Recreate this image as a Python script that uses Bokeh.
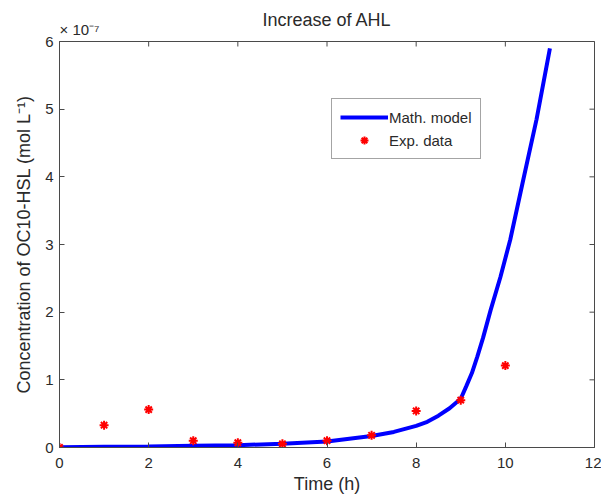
import math
from bokeh.plotting import figure
from bokeh.models import LinearAxis, Range1d, Label, Legend, LegendItem, FixedTicker
from bokeh.embed import file_html
from bokeh.resources import INLINE

# data (concentration in units of 1e-7 mol/L)
t_model = [0, 1, 2, 3, 4, 5, 6, 7, 7.5, 8, 8.25, 8.5, 8.75, 9, 9.12, 9.25, 9.37, 9.5,
           9.67, 9.89, 10.11, 10.4, 10.7, 11]
c_model = [0.005, 0.01, 0.015, 0.025, 0.035, 0.055, 0.09, 0.17, 0.23, 0.32, 0.38, 0.47,
           0.58, 0.72, 0.9, 1.1, 1.34, 1.62, 2.03, 2.52, 3.07, 3.95, 4.85, 5.9]
t_exp = [0, 1, 2, 3, 4, 5, 6, 7, 8, 9, 10]
c_exp = [0, 0.33, 0.56, 0.10, 0.07, 0.055, 0.10, 0.18, 0.54, 0.70, 1.21]
x_ticks = [0, 2, 4, 6, 8, 10, 12]
y_ticks = [0, 1, 2, 3, 4, 5, 6]
X_MAX = 12
Y_MAX = 6

FONT = "Liberation Sans"
TXT = "#2a2a2a"
AX = "#4a4a4a"

p = figure(width=601, height=496, output_backend="svg", toolbar_location=None,
           x_range=Range1d(0, X_MAX), y_range=Range1d(0, Y_MAX),
           min_border_left=59, min_border_right=7, min_border_top=41, min_border_bottom=48,
           x_axis_location=None, y_axis_location=None)
p.grid.visible = False
p.outline_line_color = AX
p.outline_line_width = 1
p.background_fill_color = "white"
p.border_fill_color = "white"

def style(ax):
    ax.axis_line_color = AX
    ax.major_tick_line_color = AX
    ax.major_tick_in = 5
    ax.major_tick_out = 0
    ax.minor_tick_line_color = None
    ax.major_label_text_font = FONT
    ax.major_label_text_font_size = "15px"
    ax.major_label_text_color = TXT
    ax.axis_label_text_font = FONT
    ax.axis_label_text_font_size = "18px"
    ax.axis_label_text_font_style = "normal"
    ax.axis_label_text_color = TXT

xb = LinearAxis(ticker=FixedTicker(ticks=x_ticks), axis_label="Time (h)")
style(xb)
xb.major_label_standoff = 10
xb.axis_label_standoff = 3
yl = LinearAxis(ticker=FixedTicker(ticks=y_ticks),
                axis_label="Concentration of OC10-HSL (mol L\u207b\u00b9)")
style(yl)
yl.major_label_standoff = 6
yl.axis_label_standoff = 8
p.add_layout(xb, "below")
p.add_layout(yl, "left")

# inward ticks on the top and right frame edges (half of each dash is clipped by the frame)
p.scatter(x_ticks, [Y_MAX] * len(x_ticks), marker="dash", size=10, angle=math.pi / 2,
          line_color=AX, line_width=1)
p.scatter([X_MAX] * len(y_ticks), y_ticks, marker="dash", size=10,
          line_color=AX, line_width=1)

line_r = p.line(t_model, c_model, line_color="#0000ff", line_width=4)
star_r = p.scatter(t_exp, c_exp, marker="asterisk", size=9, line_color="#ff0000",
                   line_width=2)

# title and exponent as labels in the top panel (not clipped by the frame)
p.add_layout(Label(x=X_MAX / 2, y=Y_MAX, y_offset=22, text="Increase of AHL", text_font=FONT,
                   text_font_size="18px", text_color=TXT, text_align="center",
                   text_baseline="alphabetic"), "above")
p.add_layout(Label(x=0, y=Y_MAX, y_offset=12, text="\u00d7 10\u207b\u2077", text_font=FONT,
                   text_font_size="15px", text_color=TXT, text_baseline="alphabetic"),
             "above")

legend = Legend(items=[LegendItem(label="Math. model", renderers=[line_r]),
                       LegendItem(label="Exp. data", renderers=[star_r])],
                location=(272, 288), orientation="vertical")
legend.border_line_color = AX
legend.border_line_width = 1
legend.background_fill_alpha = 1
legend.label_text_font = FONT
legend.label_text_font_size = "15px"
legend.label_text_color = TXT
legend.glyph_width = 48
legend.glyph_height = 20
legend.label_height = 20
legend.label_standoff = 1
legend.spacing = 3
legend.padding = 8
legend.margin = 0
p.add_layout(legend, "center")

open("out.html", "w").write(file_html(p, INLINE))
